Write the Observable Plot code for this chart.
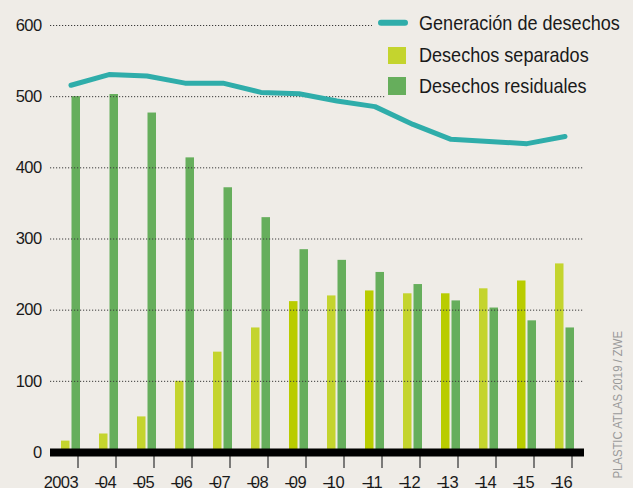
<!DOCTYPE html>
<html><head><meta charset="utf-8">
<script src="https://cdn.jsdelivr.net/npm/d3@7"></script>
<script src="https://cdn.jsdelivr.net/npm/@observablehq/plot@0.6"></script>
<style>
body{margin:0;background:#efece7;}
#wrap{position:relative;width:633px;height:488px;overflow:hidden;background:#efece7;}
#wrap svg{display:block;}
#legend{position:absolute;left:0;top:0;}
</style></head><body><div id="wrap"></div>
<script>
const FONT = '"Liberation Sans","Arimo",Arial,sans-serif';
const years = [2003,2004,2005,2006,2007,2008,2009,2010,2011,2012,2013,2014,2015,2016];
const tickLabels = ["2003","–04","–05","–06","–07","–08","–09","–10","–11","–12","–13","–14","–15","–16"];
const separados = [16,26,50,100,141,175,212,220,227,223,223,230,241,265];
const residuales = [500,503,477,414,372,330,285,270,253,236,213,203,185,175];
const generacion = [516,531,529,519,519,506,504,494,486,461,440,437,434,444];
const yTicks = [0,100,200,300,400,500,600];
const gridValues = [100,200,300,400,500,600];
const seriesNames = ["Generación de desechos","Desechos separados","Desechos residuales"];
const credit = "PLASTIC ATLAS 2019 / ZWE";

const sepData = years.map((y,i)=>({year:y, value:separados[i]}));
const resData = years.map((y,i)=>({year:y, value:residuales[i]}));
const genData = years.map((y,i)=>({year:y, value:generacion[i]}));

const TEAL = "#2fadaa", YEL = "#c4d42e", YEL2 = "#b9cc00", GRN = "#66ae5c";
const CONDENSE = 0.86;

const chart = Plot.plot({
  width:633, height:488, marginLeft:50, marginRight:49, marginTop:25, marginBottom:36,
  style:{background:"transparent", fontFamily:FONT, fontSize:"16.5px", color:"#1a1a1a", letterSpacing:"-0.6px"},
  x:{type:"band", domain:years, paddingInner:0.5, paddingOuter:0.234},
  y:{domain:[0,600]},
  marks:[
    Plot.axisX({tickSize:16, tickPadding:8, tickFormat:d=>tickLabels[years.indexOf(d)], textAnchor:"end", dx:7, stroke:"#555", strokeWidth:1.5, fill:"#1a1a1a", label:null}),
    Plot.axisY({ticks:yTicks, tickSize:0, tickPadding:9, fill:"#1a1a1a", label:null}),
    Plot.barY(sepData,{x:"year", y:"value", fill:d=>(d.year>=2009 && d.year%2===1)?YEL2:YEL, insetRight:10.5}),
    Plot.barY(resData,{x:"year", y:"value", fill:GRN, insetLeft:10.5}),
    Plot.ruleY(gridValues,{stroke:"#3a3a3a", strokeDasharray:"1.2,1.8", strokeWidth:1}),
    Plot.line(genData,{x:"year", y:"value", stroke:TEAL, strokeWidth:5, strokeLinecap:"round", strokeLinejoin:"round"}),
    Plot.ruleY([0],{stroke:"#000", strokeWidth:8}),
    Plot.text([credit],{frameAnchor:"bottom-right", rotate:-90, textAnchor:"start", dx:37, dy:26, fill:"#9a9a9a", fontSize:13, text:d=>d})
  ]
});
document.getElementById("wrap").appendChild(chart);

// overlap dash with digits like the original labels
d3.select(chart).selectAll('g[aria-label="x-axis tick label"] text').each(function(){
  const t = this.textContent;
  if (t.startsWith("–")) {
    const s = d3.select(this); s.text("");
    s.append("tspan").text("–");
    s.append("tspan").attr("dx","-0.3em").text(t.slice(1));
  }
});
// condensed look for credit
d3.select(chart).selectAll('g[aria-label="text"] text').each(function(){
  this.style.letterSpacing = "0px";
  const L = this.getComputedTextLength();
  this.setAttribute("textLength", (L*0.87).toFixed(1));
  this.setAttribute("lengthAdjust","spacingAndGlyphs");
});

// legend overlay
const lg = d3.select("#wrap").append("svg").attr("id","legend").attr("width",633).attr("height",110)
  .style("font-family",FONT).style("font-size","21px");
lg.append("rect").attr("x",372).attr("y",10).attr("width",261).attr("height",26).attr("fill","#efece7");
lg.append("rect").attr("x",385).attr("y",74).attr("width",248).attr("height",26).attr("fill","#efece7");
lg.append("line").attr("x1",381).attr("x2",405).attr("y1",22.7).attr("y2",22.7).attr("stroke",TEAL).attr("stroke-width",6).attr("stroke-linecap","round");
lg.append("rect").attr("x",388).attr("y",47).attr("width",18).attr("height",17).attr("fill",YEL);
lg.append("rect").attr("x",388).attr("y",77).attr("width",18).attr("height",18).attr("fill",GRN);
[[29.5,0],[62,1],[93.3,2]].forEach(([y,i])=>{
  const t = lg.append("text").attr("x",419).attr("y",y).attr("fill","#1a1a1a").text(seriesNames[i]);
  const L = t.node().getComputedTextLength();
  t.attr("textLength",(L*CONDENSE).toFixed(1)).attr("lengthAdjust","spacingAndGlyphs");
});
</script>
</body></html>
